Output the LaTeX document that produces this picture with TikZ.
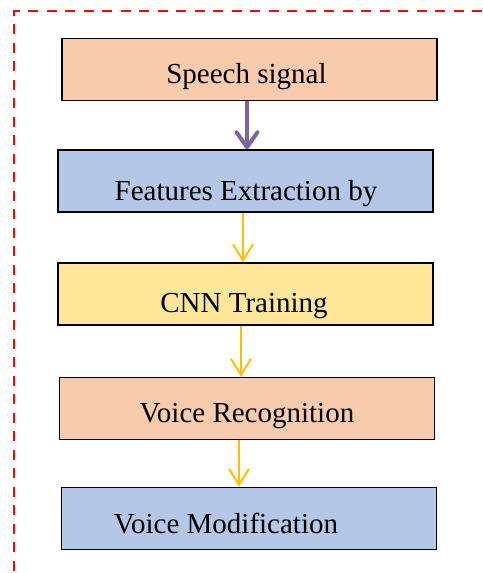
\documentclass[tikz,border=0pt]{standalone}
\usepackage{fontspec}
\setmainfont{Liberation Serif}
\usetikzlibrary{arrows.meta}
\definecolor{peach}{HTML}{F8CBAD}
\definecolor{lblue}{HTML}{B4C7E7}
\definecolor{lyellow}{HTML}{FFE699}
\definecolor{arrowyellow}{HTML}{FFC000}
\definecolor{arrowpurple}{HTML}{8064A2}
\tikzset{
  box/.style={draw=black, line width=1.5pt, minimum width=375pt, minimum height=62pt, inner sep=0pt},
  lbl/.style={anchor=base, inner sep=0pt, font=\fontsize{29}{34}\selectfont},
  yarrow/.style={draw=arrowyellow, line width=2pt, -{Straight Barb[length=16pt, width=20pt]}},
  parrow/.style={draw=arrowpurple, line width=4pt, -{Straight Barb[length=15pt, width=21pt, round]}},
  frame/.style={draw=red, line width=2.6pt, dash pattern=on 10pt off 8.5pt}
}
\begin{document}
\begin{tikzpicture}[x=1pt,y=-1pt]
\useasboundingbox (0,0) rectangle (482,573);
\coordinate (fc) at (14,11);
\coordinate (fr) at (482,11);
\coordinate (fb) at (14,573);
\draw[frame] (fr) -- (fc) -- (fb);

\node[box, fill=peach]   (b1) at (249.5,69.5) {};
\node[box, fill=lblue]   (b2) at (245.5,181)  {};
\node[box, fill=lyellow] (b3) at (245.5,294)  {};
\node[box, fill=peach]   (b4) at (247,408.5)  {};
\node[box, fill=lblue]   (b5) at (249,518.5)  {};

\node[lbl] (t1) at (246.5,83)  {Speech signal};
\node[lbl] (t2) at (246,200)   {Features Extraction by};
\node[lbl] (t3) at (244,312)   {CNN Training};
\node[lbl] (t4) at (247,422)   {Voice Recognition};
\node[lbl] (t5) at (226,533)   {Voice Modification};

\draw[parrow] ([xshift=-2.5pt]b1.south) -- ([xshift=-2.5pt]b1.south |- b2.north);
\draw[yarrow] ([xshift=-2.5pt]b2.south) -- ([xshift=-2.5pt]b2.south |- b3.north);
\draw[yarrow] ([xshift=-4.5pt]b3.south) -- ([xshift=-4.5pt]b3.south |- b4.north);
\draw[yarrow] ([xshift=-8pt]b4.south) -- ([xshift=-8pt]b4.south |- b5.north);
\end{tikzpicture}
\end{document}
